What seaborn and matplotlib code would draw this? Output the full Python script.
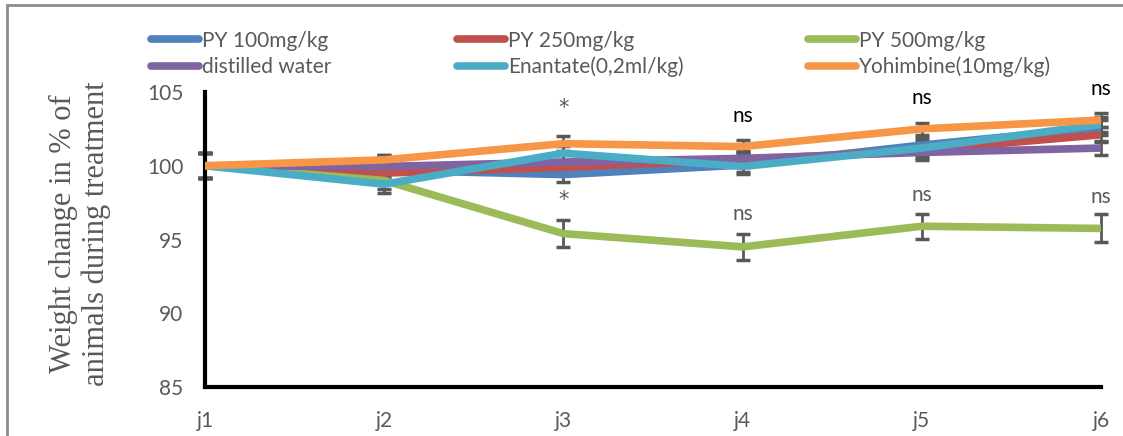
import matplotlib
matplotlib.use("Agg")
import matplotlib.pyplot as plt
import matplotlib.patches as mpatches
import numpy as np
import pandas as pd
import seaborn as sns

# Data
days = ["j1", "j2", "j3", "j4", "j5", "j6"]
groups = [
    "PY 100mg/kg",
    "PY 250mg/kg",
    "PY 500mg/kg",
    "distilled water",
    "Enantate(0,2ml/kg)",
    "Yohimbine(10mg/kg)",
]
py100 = [100.0, 99.7, 99.4, 100.05, 101.4, 102.6]
py250 = [100.0, 99.5, 99.9, 100.4, 101.05, 102.1]
py500 = [100.0, 99.0, 95.4, 94.5, 95.9, 95.75]
water = [100.0, 99.95, 100.25, 100.5, 100.9, 101.2]
enantate = [100.0, 98.75, 100.85, 99.95, 101.2, 102.8]
yohimbine = [100.0, 100.4, 101.5, 101.3, 102.5, 103.1]

err_py100 = [0.85, 0.6, 0.5, 0.5, 0.5, 0.5]
err_py250 = [0.85, 0.6, 0.5, 0.5, 0.5, 0.5]
err_py500 = [0.85, 0.6, 0.9, 0.9, 0.85, 0.95]
err_water = [0.85, 0.75, 0.5, 0.5, 0.5, 0.5]
err_enantate = [0.85, 0.6, 0.5, 0.5, 0.5, 0.5]
err_yohimbine = [0.85, 0.35, 0.5, 0.45, 0.4, 0.5]

# significance marks
mark_days = ["j3", "j4", "j5", "j6", "j3", "j4", "j5", "j6"]
mark_y = [103.9, 103.4, 104.6, 105.2, 97.7, 96.7, 98.0, 97.9]
mark_text = ["*", "ns", "ns", "ns", "*", "ns", "ns", "ns"]

colors = ["#4F81BD", "#C0504D", "#9BBB59", "#8064A2", "#4BACC6", "#F79646"]
gray = "#595959"

values = [py100, py250, py500, water, enantate, yohimbine]
errors = [err_py100, err_py250, err_py500, err_water, err_enantate, err_yohimbine]

rows = []
for g, vals, errs in zip(groups, values, errors):
    for i, d in enumerate(days):
        rows.append({"day": i, "group": g, "weight": vals[i], "err": errs[i]})
df = pd.DataFrame(rows)

sns.set_theme(style="white")
plt.rcParams["font.family"] = ["Lato", "DejaVu Sans"]

fig = plt.figure(figsize=(11.23, 4.36), dpi=100)
ax = fig.add_axes([205 / 1123, 1 - 387 / 436, (1101 - 205) / 1123, (387 - 92) / 436])

# error bars under the lines
for g in groups:
    sub = df[df["group"] == g]
    ax.errorbar(sub["day"], sub["weight"], yerr=sub["err"], fmt="none",
                ecolor=gray, elinewidth=2, capsize=5, capthick=2.5,
                zorder=1, clip_on=False)

sns.lineplot(data=df, x="day", y="weight", hue="group", hue_order=groups,
             palette=colors, linewidth=5.5, ax=ax, legend=False, zorder=3,
             solid_capstyle="butt")

ax.set_xlim(0, 5)
ax.set_ylim(85, 105)
ax.set_xticks(range(len(days)))
ax.set_xticklabels(days)
ax.set_yticks([85, 90, 95, 100, 105])
ax.set_xlabel("")
ax.set_ylabel("")
for s in ["top", "right"]:
    ax.spines[s].set_visible(False)
for s in ["left", "bottom"]:
    ax.spines[s].set_color("black")
    ax.spines[s].set_linewidth(3)
ax.tick_params(axis="both", direction="out", length=3.5, width=3, color="black",
               labelcolor=gray, labelsize=15)
ax.tick_params(axis="x", pad=14)
ax.tick_params(axis="y", pad=12)
ax.grid(False)

for d, y, t in zip(mark_days, mark_y, mark_text):
    upper = y > 100
    ax.text(days.index(d), y, t, ha="center", va="center",
            color="black" if upper and t == "ns" else gray,
            fontsize=15, family="DejaVu Sans" if t == "*" else None,
            clip_on=False, zorder=5)

# legend (column-major order for 3 columns)
handles = [plt.Line2D([], [], color=c, linewidth=5.5, solid_capstyle="round")
           for c in colors]
order = [0, 3, 1, 4, 2, 5]
fig.legend([handles[i] for i in order], [groups[i] for i in order],
           ncol=3, loc="center left", bbox_to_anchor=(143 / 1123, 1 - 54 / 436),
           frameon=False, fontsize=15, handlelength=2.3, handletextpad=0.15,
           columnspacing=6.0, labelspacing=0.3, labelcolor=gray,
           borderaxespad=0)

fig.text(80 / 1123, 1 - 234 / 436,
         "Weight change in % of\nanimals during treatment",
         rotation=90, ha="center", va="center", multialignment="center",
         family="Liberation Serif", fontsize=22, color=gray, linespacing=1.15)

# outer frame of the chart area
fig.patches.append(mpatches.Rectangle((7 / 1123, -0.1), 1.2, 1 - 5 / 436 + 0.1,
                                      transform=fig.transFigure, fill=False,
                                      edgecolor="#8C8C8C", linewidth=2))

fig.savefig("out.png", dpi=100)
